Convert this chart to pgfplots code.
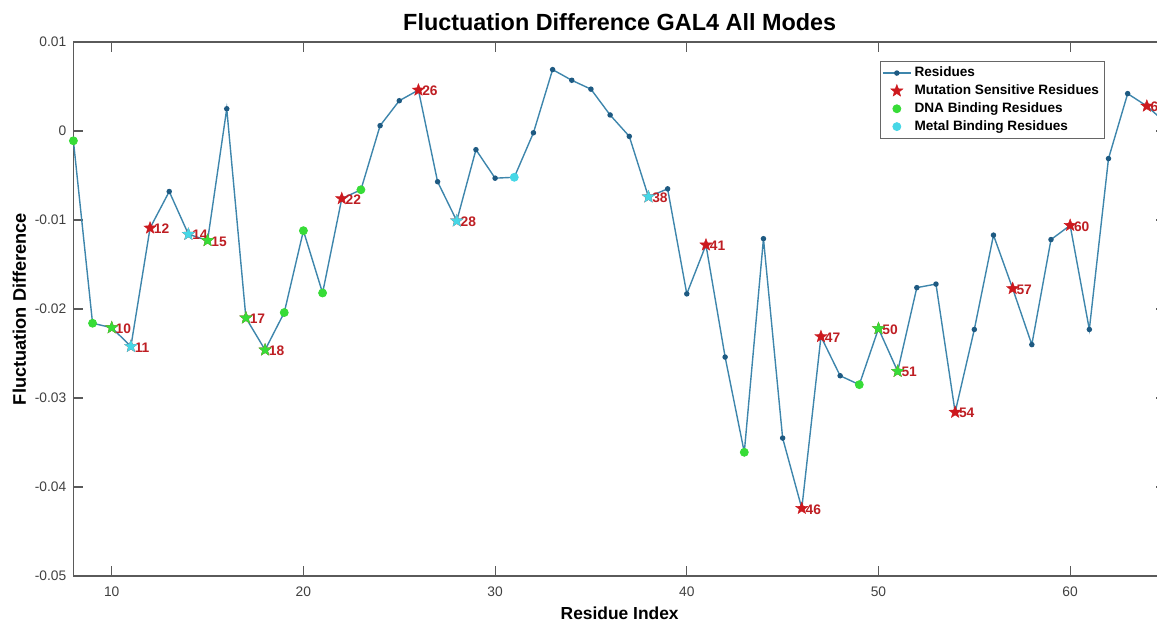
\documentclass[border=0pt]{standalone}
\usepackage{pgfplots}
\pgfplotsset{compat=1.18}
\usepackage{fontspec}
\setmainfont{Liberation Sans}
\definecolor{linec}{RGB}{62,134,172}
\definecolor{markc}{RGB}{30,90,130}
\definecolor{redc}{RGB}{205,25,30}
\definecolor{labc}{RGB}{190,30,35}
\definecolor{greenc}{RGB}{55,220,55}
\definecolor{cyanc}{RGB}{70,215,230}
\definecolor{axc}{RGB}{90,90,90}
\pgfdeclareplotmark{pstar}{%
  \pgfpathmoveto{\pgfpointpolar{90}{\pgfplotmarksize}}%
  \pgfpathlineto{\pgfpointpolar{126}{0.42\pgfplotmarksize}}%
  \pgfpathlineto{\pgfpointpolar{162}{\pgfplotmarksize}}%
  \pgfpathlineto{\pgfpointpolar{198}{0.42\pgfplotmarksize}}%
  \pgfpathlineto{\pgfpointpolar{234}{\pgfplotmarksize}}%
  \pgfpathlineto{\pgfpointpolar{270}{0.42\pgfplotmarksize}}%
  \pgfpathlineto{\pgfpointpolar{306}{\pgfplotmarksize}}%
  \pgfpathlineto{\pgfpointpolar{342}{0.42\pgfplotmarksize}}%
  \pgfpathlineto{\pgfpointpolar{18}{\pgfplotmarksize}}%
  \pgfpathlineto{\pgfpointpolar{54}{0.42\pgfplotmarksize}}%
  \pgfpathclose
  \pgfusepathqfillstroke}

\pgfplotstableread{
x y
8 -0.0011
9 -0.0216
10 -0.0221
11 -0.0242
12 -0.0109
13 -0.0068
14 -0.0116
15 -0.0123
16 0.0025
17 -0.0210
18 -0.0246
19 -0.0204
20 -0.0112
21 -0.0182
22 -0.0076
23 -0.0066
24 0.0006
25 0.0034
26 0.0046
27 -0.0057
28 -0.0101
29 -0.0021
30 -0.0053
31 -0.0052
32 -0.0002
33 0.0069
34 0.0057
35 0.0047
36 0.0018
37 -0.0006
38 -0.0074
39 -0.0065
40 -0.0183
41 -0.0128
42 -0.0254
43 -0.0361
44 -0.0121
45 -0.0345
46 -0.0424
47 -0.0231
48 -0.0275
49 -0.0285
50 -0.0222
51 -0.0270
52 -0.0176
53 -0.0172
54 -0.0316
55 -0.0223
56 -0.0117
57 -0.0177
58 -0.0240
59 -0.0122
60 -0.0106
61 -0.0223
62 -0.0031
63 0.0042
64 0.0028
65 0.0009
}\residues

\pgfplotstableread{
x y label
10 -0.0221 10
11 -0.0242 11
12 -0.0109 12
14 -0.0116 14
15 -0.0123 15
17 -0.0210 17
18 -0.0246 18
22 -0.0076 22
26 0.0046 26
28 -0.0101 28
38 -0.0074 38
41 -0.0128 41
46 -0.0424 46
47 -0.0231 47
50 -0.0222 50
51 -0.0270 51
54 -0.0316 54
57 -0.0177 57
60 -0.0106 60
64 0.0028 64
}\mutation

\pgfplotstableread{
x y
8 -0.0011
9 -0.0216
19 -0.0204
20 -0.0112
21 -0.0182
23 -0.0066
43 -0.0361
49 -0.0285
}\dnadots

\pgfplotstableread{
x y
10 -0.0221
15 -0.0123
17 -0.0210
18 -0.0246
50 -0.0222
51 -0.0270
}\dnastars

\pgfplotstableread{
x y
31 -0.0052
}\metaldots

\pgfplotstableread{
x y
11 -0.0242
14 -0.0116
28 -0.0101
38 -0.0074
}\metalstars

\begin{document}
\begin{tikzpicture}
\begin{axis}[
  at={(0pt,0pt)}, anchor=south west,
  scale only axis, width=546.3pt, height=267pt,
  xmin=8, xmax=65, ymin=-0.05, ymax=0.01,
  xtick={10,20,30,40,50,60},
  xticklabels={10,20,30,40,50,60},
  ytick={-0.05,-0.04,-0.03,-0.02,-0.01,0,0.01},
  yticklabels={-0.05,-0.04,-0.03,-0.02,-0.01,0,0.01},
  scaled y ticks=false,
  tick align=inside, tick pos=both,
  major tick length=5pt,
  axis line style={axc, line width=0.6pt},
  tick style={axc, line width=0.6pt},
  ticklabel style={font=\fontsize{6.9}{8}\selectfont, text=black!75},
  xticklabel style={yshift=-2pt},
  title={\textbf{Fluctuation Difference GAL4 All Modes}},
  title style={font=\fontsize{11.7}{13}\selectfont, yshift=-4pt},
  xlabel={\textbf{Residue Index}},
  ylabel={\textbf{Fluctuation Difference}},
  xlabel style={font=\fontsize{8.7}{10}\selectfont, yshift=2pt},
  ylabel style={font=\fontsize{9.1}{10}\selectfont, yshift=-2.5pt},
  legend style={at={(0.738,0.964)}, anchor=north west,
    font=\fontsize{6.8}{8}\selectfont\bfseries, draw=black!60,
    inner xsep=1pt, inner ysep=0.5pt, row sep=-1.5pt, cells={anchor=west},
    nodes={inner xsep=1.5pt}},
  legend cell align=left,
]
\addplot[color=linec, line width=0.7pt, mark=*, mark size=1pt,
  mark options={fill=markc, draw=markc},
  legend image code/.code={\draw[mark repeat=2, mark phase=2]
    plot coordinates {(0pt,0pt) (7pt,0pt) (14pt,0pt)};}] table {\residues};
\addlegendentry{Residues}
\addplot[only marks, mark=pstar, mark size=3.2pt, color=redc,
  mark options={fill=redc, draw=redc, line width=0.2pt},
  legend image code/.code={\draw plot coordinates {(7pt,0pt)};},
  nodes near coords, point meta=explicit symbolic,
  nodes near coords style={anchor=west, xshift=-1.5pt, yshift=-0.5pt,
    font=\fontsize{6.9}{8}\selectfont\bfseries, text=labc}]
  table[meta=label] {\mutation};
\addlegendentry{Mutation Sensitive Residues}
\addplot[only marks, mark=*, mark size=2pt, color=greenc,
  mark options={fill=greenc, draw=greenc},
  legend image code/.code={\draw plot coordinates {(7pt,0pt)};}] table {\dnadots};
\addlegendentry{DNA Binding Residues}
\addplot[only marks, mark=*, mark size=2pt, color=cyanc,
  mark options={fill=cyanc, draw=cyanc},
  legend image code/.code={\draw plot coordinates {(7pt,0pt)};}] table {\metaldots};
\addlegendentry{Metal Binding Residues}
\addplot[forget plot, only marks, mark=pstar, mark size=3.2pt, color=greenc,
  mark options={fill=greenc, draw=greenc, line width=0.2pt}] table {\dnastars};
\addplot[forget plot, only marks, mark=pstar, mark size=3.2pt, color=cyanc,
  mark options={fill=cyanc, draw=cyanc, line width=0.2pt}] table {\metalstars};
\end{axis}
\pgfresetboundingbox
\path (-36.7pt,-22.5pt) rectangle (541.8pt,288pt);
\end{tikzpicture}
\end{document}
